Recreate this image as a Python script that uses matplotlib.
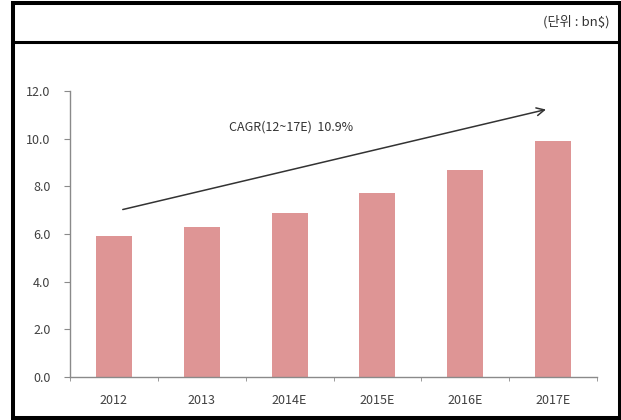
import matplotlib
matplotlib.use("Agg")
import matplotlib.pyplot as plt
from matplotlib.patches import Rectangle
from matplotlib.lines import Line2D

plt.rcParams['font.family'] = ['Noto Sans CJK KR', 'DejaVu Sans']

categories = ["2012", "2013", "2014E", "2015E", "2016E", "2017E"]
values = [5.9, 6.3, 6.9, 7.7, 8.7, 9.9]
y_ticks = [0.0, 2.0, 4.0, 6.0, 8.0, 10.0, 12.0]
unit_label = "(단위 : bn$)"
cagr_label = "CAGR(12~17E)  10.9%"

bar_color = "#DE9595"
axis_color = "#8a8a8a"
text_color = "#404040"

fig = plt.figure(figsize=(6.21, 4.20), dpi=100)
fig.patch.set_facecolor("white")

# outer frame and header separator
fig.patches.append(Rectangle((13 / 621, 2.5 / 420), (619.5 - 13) / 621, (417.5 - 2.5) / 420,
                             transform=fig.transFigure, fill=False, edgecolor="black",
                             linewidth=2.9, zorder=5))
fig.lines.append(Line2D([13 / 621, 619.5 / 621], [1 - 42 / 420, 1 - 42 / 420],
                        transform=fig.transFigure, color="black", linewidth=2.2, zorder=5))
fig.text(610 / 621, 1 - 22 / 420, unit_label, ha="right", va="center",
         fontsize=9.5, color="#333333")

ax = fig.add_axes([70 / 621, 1 - 377 / 420, (597 - 70) / 621, (377 - 91) / 420])
x = list(range(len(categories)))
ax.bar(x, values, width=0.41, color=bar_color, zorder=2)

ax.set_xlim(-0.5, len(categories) - 0.5)
ax.set_ylim(0, 12)
ax.set_yticks(y_ticks)
ax.set_yticklabels([f"{v:.1f}" for v in y_ticks], fontsize=9, color=text_color)
ax.set_xticks(x)
ax.set_xticklabels(categories, fontsize=9, color=text_color)
ax.tick_params(axis="x", length=0, pad=12)
ax.set_xticks([i - 0.5 for i in range(len(categories) + 1)], minor=True)
ax.tick_params(axis="x", which="minor", length=3, color=axis_color, direction="out")
ax.tick_params(axis="y", length=4, color=axis_color, pad=10)

for side in ("top", "right"):
    ax.spines[side].set_visible(False)
for side in ("left", "bottom"):
    ax.spines[side].set_color(axis_color)
    ax.spines[side].set_linewidth(1.0)

# growth trend arrow with CAGR annotation
ax.annotate("", xy=(4.95, 11.25), xytext=(0.07, 7.0),
            arrowprops=dict(arrowstyle="->", color="#333333", lw=1.1,
                            mutation_scale=14))
ax.text(1.31, 10.5, cagr_label, ha="left", va="center", fontsize=9, color="#333333")

fig.savefig("out.png", dpi=100)
